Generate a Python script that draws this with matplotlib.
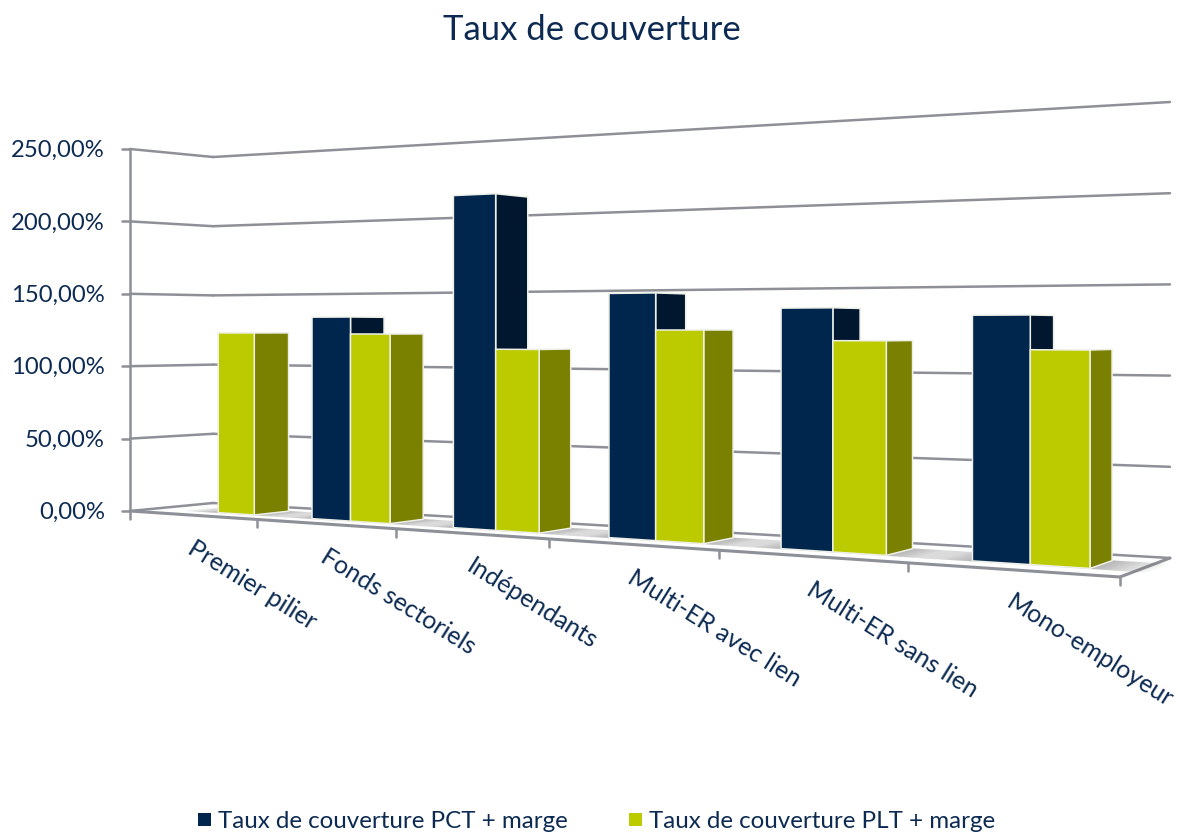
import numpy as np
import matplotlib
matplotlib.use("Agg")
import matplotlib.pyplot as plt
from matplotlib.patches import Polygon, Rectangle

# ---- data ----
categories = ["Premier pilier", "Fonds sectoriels", "Indépendants",
              "Multi-ER avec lien", "Multi-ER sans lien", "Mono-employeur"]
pct_values = [np.nan, 133.5, 210.0, 147.0, 137.5, 133.0]
plt_values = [123.0, 122.4, 113.0, 125.0, 119.0, 114.5]
y_ticks = [0, 50, 100, 150, 200, 250]
y_labels = ["0,00%", "50,00%", "100,00%", "150,00%", "200,00%", "250,00%"]
title = "Taux de couverture"
legend_labels = ["Taux de couverture PCT + marge", "Taux de couverture PLT + marge"]

# ---- style ----
NAVY, NAVY_SIDE = "#00264d", "#00172f"
LIME, LIME_SIDE = "#bccb00", "#7a8000"
GRID = "#8d9097"
TEXT = "#0d2b52"
FONT = "Lato"

# ---- perspective camera of the 3D scene (u along categories, d depth, v value) ----
FL, FR = np.array([130.0, 511.0]), np.array([1120.0, 577.0])
BL, BR = np.array([213.0, 503.0]), np.array([1170.0, 558.0])
k_front, k_back = 1.36, 1.33
horizon_y, horizon_v = 330.0, 125.0


def proj(u, k):
    return u / (u + k * (1 - u))


def P(u, d, v=0.0):
    f = FL + (FR - FL) * proj(u, k_front)
    b = BL + (BR - BL) * proj(u, k_back)
    x, y0 = f + (b - f) * d
    return x, horizon_y + (y0 - horizon_y) * (1 - v / horizon_v)


fig = plt.figure(figsize=(11.78, 8.35), dpi=100)
ax = fig.add_axes([0, 0, 1, 1])
ax.set_xlim(0, 1178)
ax.set_ylim(835, 0)
ax.axis("off")

n = len(categories)
cw = 1.0 / n
gap = 1.55
bw = cw / (2 + gap)
shift = 0.002
d0, d1 = 0.30, 0.72
lw = 1.8


def seg(p, q, z=1, c=GRID, w=lw):
    ax.plot([p[0], q[0]], [p[1], q[1]], color=c, lw=w, zorder=z, solid_capstyle="round")


# walls
for v in y_ticks:
    seg(P(0, 0, v), P(0, 1, v))
    seg(P(0, 1, v), P(1, 1, v))
    x, y = P(0, 0, v)
    seg((x - 8, y), (x, y))
for v, lab in zip(y_ticks, y_labels):
    x, y = P(0, 0, v)
    ax.text(x - 25, y + 1.5, lab, ha="right", va="center", fontsize=17.2, color=TEXT, family=FONT)
seg(P(0, 0, 0), P(0, 0, y_ticks[-1]))

# floor
seg(P(0, 0), P(1, 0), z=2, w=2.2)
seg(P(1, 0), P(1, 1), z=2, w=2.2)
for i in range(n + 1):
    x, y = P(i * cw, 0)
    seg((x, y), (x, y + 8), z=2)

# soft shadows on the floor
for i in range(n):
    has_pct = not np.isnan(pct_values[i])
    s = i * cw + gap * bw / 2 + shift
    us = s if has_pct else s + bw
    ue = s + 2 * bw
    for k in range(12):
        e = 0.0016 * k
        poly = [P(us - e * 2.5, d0 - e * 2), P(ue + e * 2.5, d0 - e * 2),
                P(ue + e * 2.5, d1 + e), P(us - e * 2.5, d1 + e)]
        ax.add_patch(Polygon(poly, closed=True, fc="#666666", ec="none",
                             alpha=0.05, zorder=3))


def bar(u0, u1, v, front, side):
    edge = dict(ec="#eef0e8", lw=1.1, joinstyle="miter", zorder=5)
    sf = [P(u1, d0, 0), P(u1, d1, 0), P(u1, d1, v), P(u1, d0, v)]
    ax.add_patch(Polygon(sf, closed=True, fc=side, **edge))
    fr = [P(u0, d0, 0), P(u1, d0, 0), P(u1, d0, v), P(u0, d0, v)]
    ax.add_patch(Polygon(fr, closed=True, fc=front, **edge))


for i in range(n):
    s = i * cw + gap * bw / 2 + shift
    if not np.isnan(pct_values[i]):
        bar(s, s + bw, pct_values[i], NAVY, NAVY_SIDE)
    bar(s + bw, s + 2 * bw, plt_values[i], LIME, LIME_SIDE)

# category labels
for i, c in enumerate(categories):
    x, y = P((i + 0.5) * cw, 0)
    ax.text(x - 2, y + 31, c, rotation=-32, rotation_mode="anchor", ha="left", va="center",
            fontsize=18, color=TEXT, family=FONT)

ax.text(592, 30, title, ha="center", va="center", fontsize=25, color=TEXT, family=FONT)

# legend
for xm, col, lab in zip([198, 629], [NAVY, LIME], legend_labels):
    ax.add_patch(Rectangle((xm, 813), 13, 13, fc=col, ec="none"))
    ax.text(xm + 20, 821, lab, ha="left", va="center", fontsize=17.4, color=TEXT, family=FONT)

fig.savefig("out.png", dpi=100)
